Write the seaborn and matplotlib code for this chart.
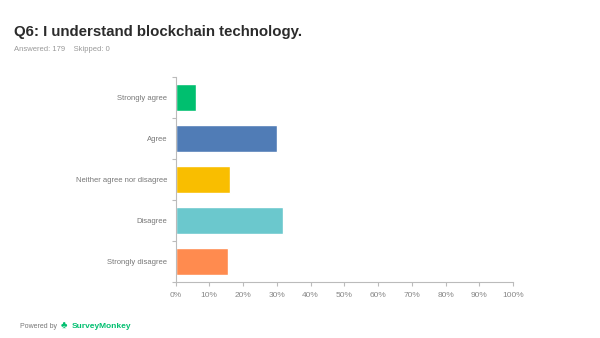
import seaborn as sns
import matplotlib.pyplot as plt
import pandas as pd

# answer choices and share of responses (%)
choices = ['Strongly agree', 'Agree', 'Neither agree nor disagree', 'Disagree', 'Strongly disagree']
percent = [6.15, 30.17, 16.20, 31.84, 15.64]
colors = ['#00BF6F', '#507CB6', '#F9BE00', '#6BC8CD', '#FF8B4F']
xticks = [0, 10, 20, 30, 40, 50, 60, 70, 80, 90, 100]

df = pd.DataFrame({'Choice': choices, 'Percent': percent})

sns.set_style('white')
plt.rcParams['font.family'] = ['Liberation Sans', 'DejaVu Sans']

fig = plt.figure(figsize=(6, 3.38), dpi=100)
ax = fig.add_axes([0.2925, 0.166, 0.5625, 0.606])

sns.barplot(data=df, x='Percent', y='Choice', hue='Choice', palette=colors,
            legend=False, width=0.66, ax=ax, saturation=1)

ax.set_xlim(0, 100)
ax.set_ylim(4.5, -0.5)
ax.set_xticks(xticks)
ax.set_xticklabels([f'{t}%' for t in xticks], fontsize=6, color='#888888')
ax.set_yticks(range(len(choices)))
ax.set_yticklabels(choices, fontsize=5.5, color='#777777')
ax.tick_params(axis='y', which='major', left=True, length=0, pad=6)
# small tick marks between categories on the left spine
ax.set_yticks([i - 0.5 for i in range(len(choices) + 1)], minor=True)
ax.tick_params(axis='y', which='minor', left=True, length=3, color='#bbbbbb', width=0.8)
ax.tick_params(axis='x', bottom=True, length=3, color='#bbbbbb', width=0.8, pad=4)
ax.set_xlabel('')
ax.set_ylabel('')
for side in ['top', 'right']:
    ax.spines[side].set_visible(False)
for side in ['left', 'bottom']:
    ax.spines[side].set_color('#bbbbbb')
    ax.spines[side].set_linewidth(0.8)

fig.text(0.023, 0.905, 'Q6: I understand blockchain technology.', fontsize=10.8,
         fontweight='bold', color='#2b2b2b', va='center')
fig.text(0.023, 0.853, 'Answered: 179    Skipped: 0', fontsize=5.5, color='#999999', va='center')
fig.text(0.033, 0.035, 'Powered by', fontsize=5, color='#777777', va='center')
fig.text(0.101, 0.035, '\u2663', fontsize=7, color='#00BF6F', va='center')
fig.text(0.12, 0.035, 'SurveyMonkey', fontsize=6, color='#00BF6F',
         fontweight='bold', va='center')

fig.savefig('out.png', dpi=100)
